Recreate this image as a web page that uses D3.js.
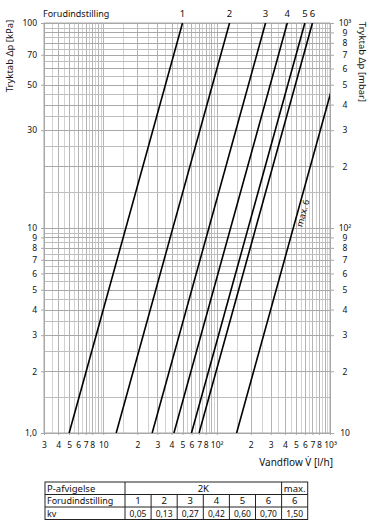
<!DOCTYPE html>
<html>
<head>
<meta charset="utf-8">
<script src="https://cdn.jsdelivr.net/npm/d3@7"></script>
<style>
  body { margin: 0; background: #fff; }
  svg text { font-family: "Noto Sans", sans-serif; fill: #111; }
</style>
</head>
<body>
<svg id="chart"></svg>
<script>
// presetting lines: flow [l/h] read where each line crosses 1 kPa and 100 kPa
const settings = ["1", "2", "3", "4", "5", "6", "max. 6"];
const flowAt1kPa = [5, 13, 27, 42, 60, 70, 150];
const flowAt100kPa = [50, 130, 270, 420, 600, 700, 1500];

const xTickVals = [3, 4, 5, 6, 7, 8, 10, 20, 30, 40, 50, 60, 70, 80, 100, 200, 300, 400, 500, 600, 700, 800, 1000];
const xTickLabels = ["3", "4", "5", "6", "7", "8", "10", "2", "3", "4", "5", "6", "7", "8", "10²", "2", "3", "4", "5", "6", "7", "8", "10³"];
const yLeftVals = [1, 2, 3, 4, 5, 6, 7, 8, 9, 10, 30, 50, 70, 100];
const yLeftLabels = ["1,0", "2", "3", "4", "5", "6", "7", "8", "9", "10", "30", "50", "70", "100"];
const yRightVals = [1, 2, 3, 4, 5, 6, 7, 8, 9, 10, 20, 30, 40, 50, 60, 70, 80, 90, 100];
const yRightLabels = ["10", "2", "3", "4", "5", "6", "7", "8", "9", "10²", "2", "3", "4", "5", "6", "7", "8", "9", "10³"];

// table below the chart
const tableHead = ["P-afvigelse", "2K", "max."];
const presetRow = ["Forudindstilling", "1", "2", "3", "4", "5", "6", "6"];
const kvRow = ["kv", "0,05", "0,13", "0,27", "0,42", "0,60", "0,70", "1,50"];

const W = 380, H = 528;
const svg = d3.select("#chart").attr("width", W).attr("height", H);

const pl = 44, pr = 330, pt = 23, pb = 433;

const x = d3.scaleLog().domain([3, 1000]).range([pl, pr]);
const y = d3.scaleLog().domain([1, 100]).range([pb, pt]);

// grid values: half steps below 10, fives in the next decade, fifties above 100
const xGrid = d3.range(3, 10, 0.5).concat(d3.range(10, 100, 5), d3.range(100, 1001, 50));
const yGrid = d3.range(1, 10, 0.5).concat(d3.range(10, 101, 5));
const isMajor = v => {
  const p = Math.pow(10, Math.floor(Math.log10(v) + 1e-9));
  return Math.abs(v / p - Math.round(v / p)) < 1e-6;
};

const grid = svg.append("g");
grid.selectAll("line.vx")
  .data(xGrid)
  .join("line")
    .attr("x1", d => Math.round(x(d)) + 0.5)
    .attr("x2", d => Math.round(x(d)) + 0.5)
    .attr("y1", pt)
    .attr("y2", pb)
    .attr("stroke", d => isMajor(d) ? "#b4b4b4" : "#d2d2d2")
    .attr("stroke-width", 1);

grid.selectAll("line.hy")
  .data(yGrid)
  .join("line")
    .attr("x1", pl)
    .attr("x2", pr)
    .attr("y1", d => Math.round(y(d)) + 0.5)
    .attr("y2", d => Math.round(y(d)) + 0.5)
    .attr("stroke", d => isMajor(d) ? "#a8a8a8" : "#bdbdbd")
    .attr("stroke-width", 1);

// axes
const xAxis = d3.axisBottom(x)
  .tickValues(xTickVals)
  .tickFormat((d, i) => xTickLabels[i])
  .tickSize(2)
  .tickPadding(7);
const yAxisL = d3.axisLeft(y)
  .tickValues(yLeftVals)
  .tickFormat((d, i) => yLeftLabels[i])
  .tickSize(3)
  .tickPadding(4);
const yAxisR = d3.axisRight(y)
  .tickValues(yRightVals)
  .tickFormat((d, i) => yRightLabels[i])
  .tickSize(4)
  .tickPadding(8);

function styleAxis(g) {
  g.select(".domain").attr("stroke", "#a8a8a8");
  g.selectAll(".tick line").attr("stroke", "#a8a8a8");
  g.selectAll(".tick text").style("font-size", "8.5px").attr("fill", "#111");
}

svg.append("g")
  .attr("transform", `translate(0,${pb})`)
  .call(xAxis)
  .call(styleAxis);
svg.append("g")
  .attr("transform", `translate(${pl},0)`)
  .call(yAxisL)
  .call(styleAxis);
svg.append("g")
  .attr("transform", `translate(${pr},0)`)
  .call(yAxisR)
  .call(styleAxis)
  .call(g => g.selectAll(".tick text").attr("text-anchor", "middle").attr("x", 15));

svg.append("rect")
  .attr("x", pl).attr("y", pt)
  .attr("width", pr - pl).attr("height", pb - pt)
  .attr("fill", "none").attr("stroke", "#a8a8a8");

// presetting lines
svg.append("clipPath").attr("id", "plotclip")
  .append("rect")
  .attr("x", pl).attr("y", pt)
  .attr("width", pr - pl).attr("height", pb - pt);

const lines = settings.map((s, i) => ({ s, a: [flowAt1kPa[i], 1], b: [flowAt100kPa[i], 100] }));

svg.append("g")
  .attr("clip-path", "url(#plotclip)")
  .selectAll("line")
  .data(lines)
  .join("line")
    .attr("x1", d => x(d.a[0]))
    .attr("y1", d => y(d.a[1]))
    .attr("x2", d => x(d.b[0]))
    .attr("y2", d => y(d.b[1]))
    .attr("stroke", "#000")
    .attr("stroke-width", 1.6);

// labels above the plot
svg.selectAll("text.set")
  .data(lines.slice(0, 6))
  .join("text")
    .attr("x", d => x(d.b[0]))
    .attr("y", 17)
    .attr("text-anchor", "middle")
    .style("font-size", "9.5px")
    .text(d => d.s);

svg.append("text")
  .attr("x", 43)
  .attr("y", 17)
  .style("font-size", "9px")
  .text("Forudindstilling");

// rotated label along the max line
const mx = lines[6];
const angle = Math.atan2(y(mx.b[1]) - y(mx.a[1]), x(mx.b[0]) - x(mx.a[0])) * 180 / Math.PI;
const lblP = 12;
const lblQ = mx.a[0] * Math.pow(mx.b[0] / mx.a[0], Math.log10(lblP) / 2);
svg.append("text")
  .attr("transform", `translate(${x(lblQ)},${y(lblP)}) rotate(${angle})`)
  .attr("y", 8.5)
  .attr("text-anchor", "middle")
  .style("font-size", "9px")
  .text(mx.s);

// axis titles
svg.append("text")
  .attr("transform", `translate(13,56) rotate(-90)`)
  .attr("text-anchor", "middle")
  .style("font-size", "9.5px")
  .text("Tryktab Δp [kPa]");

svg.append("text")
  .attr("transform", `translate(359,62) rotate(90)`)
  .attr("text-anchor", "middle")
  .style("font-size", "9.5px")
  .text("Tryktab Δp [mbar]");

svg.append("text")
  .attr("x", 333)
  .attr("y", 466)
  .attr("text-anchor", "end")
  .style("font-size", "10px")
  .text("Vandflow V\u0307 [l/h]");

// table
const tx0 = 45, labW = 80, cellW = 26.1;
const rowY = [482, 494.5, 507, 519.5];
const tbl = svg.append("g");
const colX = i => tx0 + labW + i * cellW;

tbl.append("rect")
  .attr("x", tx0).attr("y", rowY[0])
  .attr("width", labW + 7 * cellW).attr("height", rowY[3] - rowY[0])
  .attr("fill", "none").attr("stroke", "#222");

rowY.slice(1, 3).forEach(ry => {
  tbl.append("line")
    .attr("x1", tx0).attr("x2", tx0 + labW + 7 * cellW)
    .attr("y1", ry).attr("y2", ry)
    .attr("stroke", "#222");
});

tbl.append("line")
  .attr("x1", colX(0)).attr("x2", colX(0))
  .attr("y1", rowY[0]).attr("y2", rowY[3]).attr("stroke", "#222");
tbl.append("line")
  .attr("x1", colX(6)).attr("x2", colX(6))
  .attr("y1", rowY[0]).attr("y2", rowY[3]).attr("stroke", "#222");
d3.range(1, 6).forEach(i => {
  tbl.append("line")
    .attr("x1", colX(i)).attr("x2", colX(i))
    .attr("y1", rowY[1]).attr("y2", rowY[3]).attr("stroke", "#222");
});

tbl.append("text").attr("x", tx0 + 2).attr("y", rowY[1] - 3)
  .style("font-size", "9.5px").text(tableHead[0]);
tbl.append("text").attr("x", (colX(0) + colX(6)) / 2).attr("y", rowY[1] - 3)
  .attr("text-anchor", "middle").style("font-size", "9.5px").text(tableHead[1]);
tbl.append("text").attr("x", colX(6) + cellW / 2).attr("y", rowY[1] - 3)
  .attr("text-anchor", "middle").style("font-size", "9.5px").text(tableHead[2]);

[presetRow, kvRow].forEach((row, r) => {
  const by = rowY[r + 2] - 3;
  tbl.append("text").attr("x", tx0 + 2).attr("y", by)
    .style("font-size", "9px").text(row[0]);
  tbl.selectAll(null)
    .data(row.slice(1))
    .join("text")
      .attr("x", (d, i) => colX(i) + cellW / 2)
      .attr("y", by)
      .attr("text-anchor", "middle")
      .style("font-size", r === 1 ? "8.5px" : "9.5px")
      .text(d => d);
});
</script>
</body>
</html>
